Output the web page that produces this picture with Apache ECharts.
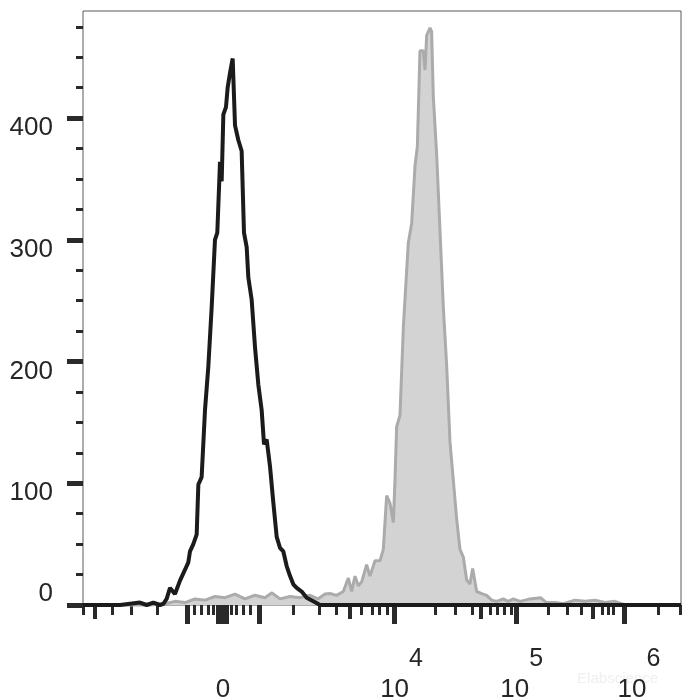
<!DOCTYPE html>
<html><head><meta charset="utf-8">
<script src="https://cdn.jsdelivr.net/npm/echarts@6/dist/echarts.min.js"></script>
<style>html,body{margin:0;padding:0;background:#fff}#c{width:700px;height:700px}</style>
</head><body><div id="c"></div>
<script>
// Histogram data, x in display channels (0-1000 across the biexponential axis)
const isotypeChannels = [0, 61.9, 95.3, 106.5, 117.6, 128.8, 134.3, 139.9, 145.5, 153.8, 162.2, 170.6, 176.1, 178.9, 184.5, 190.1, 192.9, 198.4, 204.0, 209.6, 215.2, 220.7, 224.6, 229.1, 231.9, 234.7, 239.1, 241.9, 245.8, 250.3, 252.5, 254.2, 259.7, 265.3, 269.2, 273.7, 276.5, 282.0, 287.6, 293.2, 298.8, 302.7, 307.1, 312.7, 318.3, 323.9, 329.4, 335.0, 340.6, 346.1, 351.7, 357.3, 365.7, 374.0, 385.2, 396.3, 1000];
const isotypeCounts   = [0, 0, 2, 0, 2, 0, 1, 5, 14, 9, 20, 29, 35, 44, 50, 58, 99, 105, 160, 196, 245, 300, 306, 364, 348, 403, 409, 425, 437, 449, 450, 394, 382, 373, 306, 294, 269, 251, 212, 181, 160, 132, 136, 114, 84, 56, 47, 44, 32, 24, 17, 14, 11, 6, 3, 0, 0];

const stainedChannels = [0, 112.0, 137.1, 153.8, 170.6, 187.3, 204.0, 220.7, 237.5, 254.2, 270.9, 287.6, 304.3, 316.0, 329.4, 346.1, 362.9, 379.6, 392.9, 404.7, 413.0, 424.2, 435.3, 443.7, 449.3, 454.8, 460.4, 466.0, 474.3, 479.9, 488.3, 496.6, 502.2, 507.8, 513.4, 519.0, 521.7, 524.5, 530.1, 535.7, 544.0, 549.6, 555.2, 559.1, 563.5, 569.1, 571.9, 574.7, 580.3, 583.0, 585.8, 591.4, 597.0, 602.6, 608.1, 613.7, 619.3, 624.8, 630.4, 636.0, 641.6, 647.1, 651.6, 658.3, 666.7, 675.0, 683.4, 691.7, 702.9, 711.0, 719.6, 731.0, 747.5, 765.0, 775.0, 790.0, 803.2, 822.7, 839.4, 856.2, 872.9, 889.6, 906.3, 1000];
const stainedCounts   = [0, 0, 1, 3, 2, 5, 4, 7, 6, 9, 5, 8, 6, 10, 5, 7, 6, 8, 5, 9, 9.4, 7.9, 11.1, 22.1, 11.1, 23.7, 15.8, 19, 33.1, 23.7, 36.3, 36.3, 45.7, 89.8, 83.5, 67.8, 102.4, 146.5, 156, 228.4, 297.7, 313.5, 360.8, 376.5, 455.3, 455.3, 439.5, 467.9, 474.2, 471, 417.5, 370.2, 307.2, 244.2, 197, 134, 102.4, 70.9, 45.7, 39.4, 20.5, 17.3, 30, 11.1, 9.4, 7.9, 4, 3, 5, 3, 5, 3, 5, 6, 2, 2, 1, 4, 3, 4, 2, 3, 0, 0];

// Axis ticks
const yMax = 488;
const yTickValues = [0, 100, 200, 300, 400];
const yMinorTickValues = [25, 50, 75, 125, 150, 175, 225, 250, 275, 325, 350, 375, 425, 450, 475];
const xTickSmall  = [0, 48.5, 80.3, 123.7, 185.6, 197.3, 209.0, 217.4, 247.5, 255.9, 267.6, 279.3, 351.2, 394.6, 423.1, 464.9, 483.3, 495.0, 508.4, 588.6, 622.1, 650.5, 680.6, 692.3, 704.0, 715.7, 777.6, 809.4, 832.8, 867.9, 877.9, 886.3, 961.5, 998.3];
const xTickMedium = [20.1, 446.5, 665.6, 852.8];
const xTickLarge  = [173.9, 225.8, 232.4, 239.1, 294.3, 520.1, 724.1, 904.7];
const xLabelChannels = [234, 521, 722, 918];
const xLabelBase = ['0', '10', '10', '10'];
const xLabelExp  = ['', '4', '5', '6'];

const FONT = "'Liberation Sans', Arial, sans-serif";
const TXT = '#262626';
const TICK = '#2a2a2a';

function zip(xs, ys) { return xs.map((x, i) => [x, ys[i]]); }

function tickAxis(values, len, width, withLabels) {
  const ax = {
    type: 'value', gridIndex: 0, position: 'bottom', min: 0, max: 1000,
    axisLine: { show: false }, splitLine: { show: false },
    axisTick: { show: true, customValues: values, length: len, inside: false,
      lineStyle: { color: TICK, width: width } },
    axisLabel: { show: false }
  };
  if (withLabels) {
    ax.axisLabel = {
      show: true, customValues: xLabelChannels, margin: 42,
      formatter: function (v) {
        let i = xLabelChannels.indexOf(v);
        if (i < 0) { i = 0; let best = 1e9; xLabelChannels.forEach((c, k) => { if (Math.abs(c - v) < best) { best = Math.abs(c - v); i = k; } }); }
        if (!xLabelExp[i]) return '{b|' + xLabelBase[i] + '}';
        return '{p| }{b|' + xLabelBase[i] + '}{s|' + xLabelExp[i] + '}';
      },
      rich: {
        p: { width: 14, fontSize: 24, lineHeight: 56, verticalAlign: 'bottom' },
        b: { fontSize: 26, fontFamily: FONT, color: TXT, lineHeight: 56, verticalAlign: 'bottom' },
        s: { fontSize: 25, fontFamily: FONT, color: TXT, lineHeight: 4, verticalAlign: 'top' }
      }
    };
  }
  return ax;
}

const chart = echarts.init(document.getElementById('c'), null, { renderer: 'canvas' });
chart.setOption({
  animation: false,
  backgroundColor: '#ffffff',
  grid: { left: 83, right: 19, top: 11, bottom: 95, outerBoundsMode: 'none', containLabel: false,
    show: true, borderColor: '#5a5a5a', borderWidth: 1, backgroundColor: 'transparent' },
  xAxis: [
    tickAxis(xTickSmall, 10, 3, true),
    tickAxis(xTickMedium, 14, 4, false),
    tickAxis(xTickLarge, 19, 5, false)
  ],
  yAxis: [
    {
      type: 'value', gridIndex: 0, position: 'left', min: 0, max: yMax,
      axisLine: { show: false }, splitLine: { show: false },
      axisTick: { show: true, customValues: yTickValues, length: 16, lineStyle: { color: TICK, width: 5 } },
      axisLabel: {
        show: true, customValues: yTickValues, margin: 30,
        formatter: function (v) { return v === 0 ? '{z|0}' : '{n|' + v + '}'; },
        rich: {
          n: { fontSize: 26, fontFamily: FONT, color: TXT, padding: [20, 0, 0, 0] },
          z: { fontSize: 26, fontFamily: FONT, color: TXT, padding: [0, 0, 22, 0] }
        }
      }
    },
    {
      type: 'value', gridIndex: 0, position: 'left', min: 0, max: yMax,
      axisLine: { show: false }, splitLine: { show: false },
      axisTick: { show: true, customValues: yMinorTickValues, length: 7, lineStyle: { color: TICK, width: 3 } },
      axisLabel: { show: false }
    }
  ],
  graphic: [{
    type: 'text', right: 42, bottom: 14, z: 0,
    style: { text: 'Elabscience', fill: '#efefef', font: '15px ' + FONT }
  }],
  series: [
    {
      name: 'Stained', type: 'line', xAxisIndex: 0, yAxisIndex: 0,
      data: zip(stainedChannels, stainedCounts), showSymbol: false, clip: false, z: 2,
      lineStyle: { color: '#ababab', width: 3 },
      areaStyle: { color: '#d3d3d3', opacity: 1 }
    },
    {
      name: 'Isotype', type: 'line', xAxisIndex: 0, yAxisIndex: 0,
      data: zip(isotypeChannels, isotypeCounts), showSymbol: false, clip: false, z: 3,
      lineStyle: { color: '#1b1b1b', width: 4 }
    }
  ]
});
</script></body></html>
